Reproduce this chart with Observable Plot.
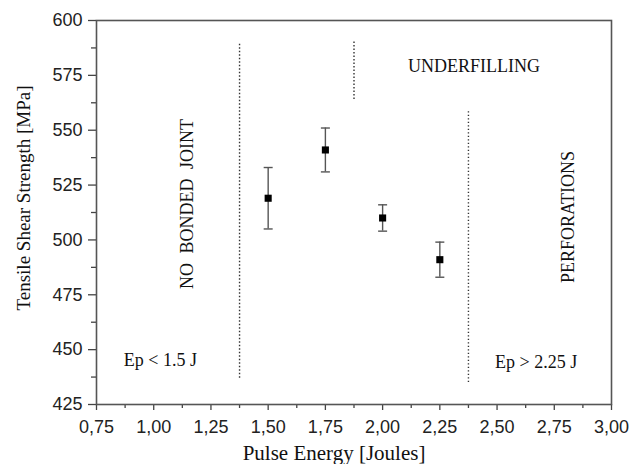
<!DOCTYPE html>
<html><head><meta charset="utf-8">
<script src="https://cdn.jsdelivr.net/npm/d3@7"></script>
<script src="https://cdn.jsdelivr.net/npm/@observablehq/plot@0.6"></script>
<style>body{margin:0;background:#fff}</style>
</head><body><div id="chart"></div>
<script>
const energy = [1.50, 1.75, 2.00, 2.25];
const strength = [519, 541, 510, 491];
const errLow = [505, 531, 504, 483];
const errHigh = [533, 551, 516, 499];

const xTicks = [0.75, 1.00, 1.25, 1.50, 1.75, 2.00, 2.25, 2.50, 2.75, 3.00];
const xMinor = [0.875, 1.125, 1.375, 1.625, 1.875, 2.125, 2.375, 2.625, 2.875];
const yTicks = [425, 450, 475, 500, 525, 550, 575, 600];
const yMinor = [437.5, 462.5, 487.5, 512.5, 537.5, 562.5, 587.5];

const boundaryX = [1.375, 1.875, 2.375];
const boundaryY1 = [437, 564, 435];
const boundaryY2 = [590, 591, 559];

const labelText = ["NO BONDED JOINT", "UNDERFILLING", "PERFORATIONS", "Ep < 1.5 J", "Ep > 2.25 J"];
const labelX = [1.147, 2.399, 2.809, 1.029, 2.671];
const labelY = [516.4, 579.3, 510.4, 445.0, 444.1];
const labelRotate = [-90, 0, -90, 0, 0];

const points = energy.map((x, i) => ({x, y: strength[i], lo: errLow[i], hi: errHigh[i]}));
const caps = points.flatMap(d => [{x: d.x, y: d.lo}, {x: d.x, y: d.hi}]);
const bounds = boundaryX.map((x, i) => ({x, y1: boundaryY1[i], y2: boundaryY2[i]}));
const labels = labelText.map((t, i) => ({t, x: labelX[i], y: labelY[i], r: labelRotate[i]}));

const capSymbol = {draw(ctx) { ctx.moveTo(-4.5, 0); ctx.lineTo(4.5, 0); }};
const fmt = d => d.toFixed(2).replace(".", ",");
const sans = "'Liberation Sans', Arial, sans-serif";
const serif = "'Liberation Serif', 'Times New Roman', serif";

const chart = Plot.plot({
  width: 642,
  height: 464,
  marginLeft: 96,
  marginRight: 31,
  marginTop: 20,
  marginBottom: 60,
  style: {color: "#222", background: "#fff", overflow: "visible"},
  x: {domain: [0.75, 3.0], label: null},
  y: {domain: [425, 600], label: null},
  marks: [
    Plot.axisX(xMinor, {tickSize: 4, tickFormat: () => "", stroke: "#444", strokeWidth: 1.3}),
    Plot.axisX(xTicks, {tickSize: 6, tickPadding: 10, tickFormat: fmt, fontSize: 18, fontFamily: sans, stroke: "#444", strokeWidth: 1.3}),
    Plot.axisY(yMinor, {tickSize: 5, tickFormat: () => "", stroke: "#444", strokeWidth: 1.3}),
    Plot.axisY(yTicks, {tickSize: 8, tickPadding: 6, fontSize: 18, fontFamily: sans, stroke: "#444", strokeWidth: 1.3}),
    Plot.frame({stroke: "#555", strokeWidth: 1.6}),
    Plot.ruleX(bounds, {x: "x", y1: "y1", y2: "y2", stroke: "#333", strokeWidth: 1.4, strokeDasharray: "1.4,2.1"}),
    Plot.ruleX(points, {x: "x", y1: "lo", y2: "hi", stroke: "#555", strokeWidth: 1.4}),
    Plot.dot(caps, {x: "x", y: "y", symbol: capSymbol, stroke: "#555", strokeWidth: 1.4, fill: "none", r: 4}),
    Plot.dot(points, {x: "x", y: "y", symbol: "square", r: 4, fill: "#000", stroke: "none"}),
    Plot.text(labels, {x: "x", y: "y", text: "t", rotate: "r", fontSize: 18, fontFamily: serif, fill: "#111"}),
    Plot.text(["Pulse Energy [Joules]"], {frameAnchor: "bottom", textAnchor: "middle", dx: -20, dy: 55, fontSize: 21, fontFamily: serif, fill: "#111"}),
    Plot.text(["Tensile Shear Strength [MPa]"], {frameAnchor: "left", textAnchor: "middle", lineAnchor: "middle", dx: -73, dy: -14.5, rotate: -90, fontSize: 19, fontFamily: serif, fill: "#111"})
  ]
});
d3.select(chart).selectAll("text").filter(function() { return this.textContent === "NO BONDED JOINT"; }).style("word-spacing", "5px");
document.getElementById("chart").appendChild(chart);
</script>
</body></html>
